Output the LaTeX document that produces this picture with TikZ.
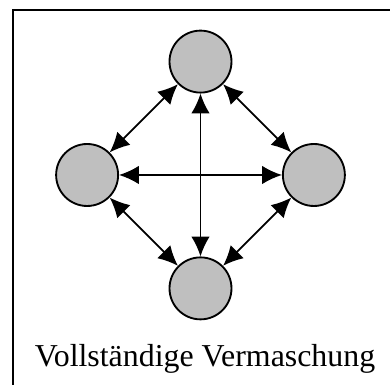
\documentclass[tikz,border=0pt]{standalone}
\usepackage{fontspec}
\setmainfont{Liberation Serif}
\usetikzlibrary{arrows.meta}

\begin{document}
\begin{tikzpicture}[>={Latex[length=15pt,width=14pt]},
    station/.style={draw, circle, minimum size=1.64cm, fill=gray!50, line width=1.4pt},
    link/.style={<->, line width=1.3pt}]
    \useasboundingbox (-5.305,-5.556) rectangle (5.014,4.63);
    \clip (-5.305,-5.556) rectangle (5.014,4.63);

    % Rahmen
    \draw [line width=1.5pt] (-4.961,-6) rectangle (6,4.366);

    % Stationen
    \node [station] (oben) at (0,3) {};
    \node [station] (links) at (-3,0) {};
    \node [station] (rechts) at (3,0) {};
    \node [station] (unten) at (0,-3) {};

    % Verbindungen
    \foreach \a/\b in {oben/links, oben/rechts, oben/unten, links/rechts, links/unten, rechts/unten}
        \draw [link] (\a) -- (\b);

    \node [anchor=base, font=\fontsize{24}{28}\selectfont] (titel) at (0.12,-5.08) {Vollständige Vermaschung};
\end{tikzpicture}
\end{document}
